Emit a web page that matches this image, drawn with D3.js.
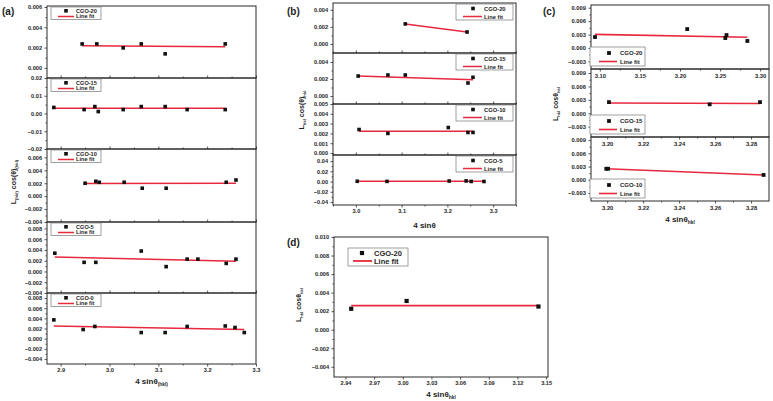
<!DOCTYPE html>
<html><head><meta charset="utf-8">
<script src="https://cdn.jsdelivr.net/npm/d3@7"></script>
<style>
body{margin:0;background:#fff;}
svg{display:block;font-family:"Liberation Sans",Arial,sans-serif;}
</style></head><body>
<svg id="c" width="773" height="401"></svg>
<script>
// ---------- DATA ----------
const fitLabel = "Line fit";
// Panel (a)
const a20X = [2.944, 2.974, 3.028, 3.065, 3.114, 3.237];
const a20Y = [0.00236, 0.00236, 0.00197, 0.00236, 0.00138, 0.00236];
const a20Fit = [0.00217, 0.00207];
const a15X = [2.886, 2.948, 2.970, 2.977, 3.028, 3.065, 3.114, 3.159, 3.237];
const a15Y = [0.0034, 0.0022, 0.0039, 0.0011, 0.0022, 0.0039, 0.0039, 0.0022, 0.0022];
const a15Fit = [0.0030, 0.0030];
const a10X = [2.950, 2.972, 2.979, 3.030, 3.067, 3.116, 3.239, 3.259];
const a10Y = [0.0020, 0.0023, 0.00215, 0.00215, 0.00123, 0.00123, 0.00215, 0.0025];
const a10Fit = [0.00195, 0.0020];
const a5X = [2.888, 2.948, 2.972, 3.065, 3.116, 3.159, 3.181, 3.239, 3.259];
const a5Y = [0.0034, 0.0017, 0.0017, 0.0038, 0.0009, 0.0023, 0.0023, 0.0015, 0.0023];
const a5Fit = [0.0027, 0.0019];
const a0X = [2.886, 2.946, 2.970, 3.065, 3.114, 3.159, 3.237, 3.257, 3.276];
const a0Y = [0.0037, 0.0018, 0.0024, 0.0012, 0.0012, 0.0024, 0.0025, 0.0022, 0.0012];
const a0Fit = [0.0025, 0.0018];
const aXTicks = [2.9, 3.0, 3.1, 3.2, 3.3];
const aXMinor = [2.95, 3.05, 3.15, 3.25];
// Panel (b)
const b20X = [3.108, 3.243];
const b20Y = [0.00235, 0.0014];
const b20Fit = [0.00235, 0.0014];
const b15X = [3.005, 3.070, 3.108, 3.245, 3.256];
const b15Y = [0.00235, 0.00247, 0.00247, 0.00153, 0.0022];
const b15Fit = [0.00235, 0.0019];
const b10X = [3.007, 3.070, 3.202, 3.245, 3.256];
const b10Y = [0.0024, 0.0020, 0.0026, 0.0021, 0.0021];
const b10Fit = [0.00222, 0.00222];
const b5X = [3.003, 3.068, 3.204, 3.241, 3.252, 3.280];
const b5Y = [0.0005, 0.0003, 0.0010, 0.0012, 0.0002, 0.0001];
const b5Fit = [0.0004, 0.0005];
const bXTicks = [3.0, 3.1, 3.2, 3.3];
const bXMinor = [2.95, 3.05, 3.15, 3.25, 3.35];
// Panel (c)
const c20X = [3.094, 3.209, 3.2565, 3.258, 3.284];
const c20Y = [0.00244, 0.00422, 0.00222, 0.00289, 0.00156];
const c20Fit = [0.00304, 0.00238];
const c15X = [3.201, 3.257, 3.285];
const c15Y = [0.0025, 0.0020, 0.0025];
const c15Fit = [0.0023, 0.0022];
const c10X = [3.1995, 3.2005, 3.287];
const c10Y = [0.0025, 0.0025, 0.0011];
const c10Fit = [0.0025, 0.0011];
const c20XTicks = [3.10, 3.15, 3.20, 3.25, 3.30];
const c20XMinor = [3.125, 3.175, 3.225, 3.275];
const cLowXTicks = [3.20, 3.22, 3.24, 3.26, 3.28];
const cLowXMinor = [3.21, 3.23, 3.25, 3.27];
const cYTicks = [-0.003, 0.000, 0.003, 0.006, 0.009];
// Panel (d)
const dX = [2.946, 3.004, 3.142];
const dY = [0.00226, 0.0031, 0.0025];
const dFit = [0.0026, 0.0026];
const dXTicks = [2.94, 2.97, 3.00, 3.03, 3.06, 3.09, 3.12, 3.15];
const dYTicks = [-0.004, -0.002, 0.000, 0.002, 0.004, 0.006, 0.008, 0.010];

// ---------- DRAWING ----------
const svg = d3.select("#c");
const RED = "#e8283c", AX = "#2b2b2b", TXT = "#1e1e1e";

function styleAxis(sel, fs) {
  sel.select(".domain").remove();
  sel.selectAll("line").attr("stroke", AX).attr("stroke-width", 0.8);
  sel.selectAll("text").attr("font-size", fs).attr("font-weight", "bold").attr("fill", TXT)
     .attr("font-family", "'Liberation Sans', Arial, sans-serif");
}

function subPanel(c) {
  const g = svg.append("g");
  const x = d3.scaleLinear().domain(c.xDomain).range([c.x0, c.x1]);
  const y = d3.scaleLinear().domain(c.yDomain).range([c.y1, c.y0]);
  const fs = c.fs || 5.6;
  const ya = g.append("g").attr("transform", `translate(${c.x0},0)`)
    .call(d3.axisLeft(y).tickValues(c.yTicks).tickFormat(d3.format(c.yFmt)).tickSizeInner(2.5).tickSizeOuter(0).tickPadding(c.yPad || 2.5));
  styleAxis(ya, fs);
  if (c.yMinor) {
    const ym = g.append("g").attr("transform", `translate(${c.x0},0)`)
      .call(d3.axisLeft(y).tickValues(c.yMinor).tickFormat("").tickSizeInner(1.5).tickSizeOuter(0));
    styleAxis(ym, fs);
  }
  const xa = g.append("g").attr("transform", `translate(0,${c.y1})`)
    .call(d3.axisBottom(x).tickValues(c.xTicks).tickFormat(c.xLabels ? d3.format(c.xFmt) : "")
      .tickSizeInner(c.xLabels ? 2.5 : -2.5).tickSizeOuter(0).tickPadding(2));
  styleAxis(xa, fs);
  if (c.xMinor) {
    const xm = g.append("g").attr("transform", `translate(0,${c.y1})`)
      .call(d3.axisBottom(x).tickValues(c.xMinor).tickFormat("").tickSizeInner(c.xLabels ? 1.5 : -1.5).tickSizeOuter(0));
    styleAxis(xm, fs);
  }
  g.append("rect").attr("x", c.x0).attr("y", c.y0).attr("width", c.x1 - c.x0).attr("height", c.y1 - c.y0)
    .attr("fill", "none").attr("stroke", AX).attr("stroke-width", 1);
  const ext = d3.extent(c.xs);
  const fitPts = [[ext[0], c.fit[0]], [ext[1], c.fit[1]]];
  g.append("path").datum(fitPts)
    .attr("d", d3.line().x(d => x(d[0])).y(d => y(d[1])))
    .attr("fill", "none").attr("stroke", RED).attr("stroke-width", c.lw || 1.6);
  const ms = c.ms || 4;
  g.selectAll("rect.pt").data(c.xs.map((v, i) => [v, c.ys[i]])).enter().append("rect")
    .attr("class", "pt")
    .attr("x", d => x(d[0]) - ms / 2).attr("y", d => y(d[1]) - ms / 2)
    .attr("width", ms).attr("height", ms).attr("fill", "#111");
  const L = c.legend;
  g.append("rect").attr("x", L.x).attr("y", L.y).attr("width", L.w).attr("height", L.h)
    .attr("fill", "#fff").attr("stroke", "#777").attr("stroke-width", 0.7);
  g.append("rect").attr("x", L.mx - ms / 2).attr("y", L.y + L.my - ms / 2).attr("width", ms).attr("height", ms).attr("fill", "#111");
  g.append("line").attr("x1", L.lx0).attr("x2", L.lx1).attr("y1", L.y + L.ly).attr("y2", L.y + L.ly)
    .attr("stroke", RED).attr("stroke-width", c.lw || 1.6);
  g.append("text").attr("x", L.tx).attr("y", L.y + L.t1).text(c.name)
    .attr("font-size", L.fs).attr("font-weight", "bold").attr("fill", TXT);
  g.append("text").attr("x", L.tx).attr("y", L.y + L.t2).text(fitLabel)
    .attr("font-size", L.fs).attr("font-weight", "bold").attr("fill", TXT);
}

function subText(x, y, parts, fs, rotate) {
  const t = svg.append("text").attr("text-anchor", "middle").attr("font-weight", "bold")
    .attr("font-size", fs).attr("fill", TXT)
    .attr("transform", rotate ? `translate(${x},${y}) rotate(-90)` : `translate(${x},${y})`);
  parts.forEach(p => {
    if (p.sub) {
      t.append("tspan").text(p.t).attr("font-size", fs * 0.6).attr("dy", fs * 0.3);
    } else {
      t.append("tspan").text(p.t).attr("dy", p.back ? -fs * 0.3 : 0);
    }
  });
}
function panelLabel(x, y, s) {
  svg.append("text").attr("x", x).attr("y", y).text(s).attr("font-size", 10).attr("font-weight", "bold").attr("fill", TXT);
}

// ----- Panel (a) -----
const aL = 47, aR = 256;
const aTops = [6, 78, 149, 222, 293, 364];
const aSeries = [
  {name: "CGO-20", xs: a20X, ys: a20Y, fit: a20Fit, yDomain: [-0.001, 0.0061], yTicks: [0, 0.002, 0.004, 0.006], yMinor: [0.001, 0.003, 0.005], yFmt: ".3f"},
  {name: "CGO-15", xs: a15X, ys: a15Y, fit: a15Fit, yDomain: [-0.02, 0.02], yTicks: [-0.02, -0.01, 0, 0.01, 0.02], yMinor: [-0.015, -0.005, 0.005, 0.015], yFmt: ".2f"},
  {name: "CGO-10", xs: a10X, ys: a10Y, fit: a10Fit, yDomain: [-0.004, 0.0073], yTicks: [-0.004, -0.002, 0, 0.002, 0.004, 0.006], yMinor: [-0.003, -0.001, 0.001, 0.003, 0.005], yFmt: ".3f"},
  {name: "CGO-5", xs: a5X, ys: a5Y, fit: a5Fit, yDomain: [-0.004, 0.0092], yTicks: [-0.004, -0.002, 0, 0.002, 0.004, 0.006, 0.008], yMinor: [-0.003, -0.001, 0.001, 0.003, 0.005, 0.007], yFmt: ".3f"},
  {name: "CGO-0", xs: a0X, ys: a0Y, fit: a0Fit, yDomain: [-0.005, 0.009], yTicks: [-0.004, -0.002, 0, 0.002, 0.004, 0.006, 0.008], yMinor: [-0.003, -0.001, 0.001, 0.003, 0.005, 0.007], yFmt: ".3f"}
];
aSeries.forEach((s, i) => {
  subPanel(Object.assign({}, s, {
    x0: aL, x1: aR, y0: aTops[i], y1: aTops[i + 1],
    xDomain: [2.872, 3.3], xTicks: aXTicks, xMinor: aXMinor, xFmt: ".1f", xLabels: i === 4,
    ms: 3.6, lw: 1.5,
    legend: {x: 51, y: aTops[i] + 1, w: 50, h: 12.5, mx: 66, my: 3.8, lx0: 58, lx1: 74, ly: 9.5, tx: 76, t1: 5.6, t2: 11.4, fs: 5.6}
  }));
});
subText((aL + aR) / 2, 384, [{t: "4 sinθ"}, {t: "(hkl)", sub: true}], 8, false);
subText(16, 182, [{t: "L"}, {t: "(hkl)", sub: true}, {t: " cos(θ)", back: true}, {t: "(hkl)", sub: true}], 7, true);
panelLabel(2, 15, "(a)");

// ----- Panel (b) -----
const bL = 333, bR = 516;
const bTops = [3, 53, 104, 155, 205];
const bSeries = [
  {name: "CGO-20", xs: b20X, ys: b20Y, fit: b20Fit, yDomain: [-0.00106, 0.0048], yTicks: [0, 0.002, 0.004], yMinor: [0.001, 0.003], yFmt: ".3f"},
  {name: "CGO-15", xs: b15X, ys: b15Y, fit: b15Fit, yDomain: [-0.00094, 0.00506], yTicks: [0, 0.002, 0.004], yMinor: [0.001, 0.003], yFmt: ".3f"},
  {name: "CGO-10", xs: b10X, ys: b10Y, fit: b10Fit, yDomain: [-0.0002, 0.005], yTicks: [0, 0.001, 0.002, 0.003, 0.004, 0.005], yMinor: null, yFmt: ".3f"},
  {name: "CGO-5", xs: b5X, ys: b5Y, fit: b5Fit, yDomain: [-0.046, 0.052], yTicks: [-0.04, -0.02, 0, 0.02, 0.04], yMinor: [-0.03, -0.01, 0.01, 0.03], yFmt: ".2f"}
];
bSeries.forEach((s, i) => {
  subPanel(Object.assign({}, s, {
    x0: bL, x1: bR, y0: bTops[i], y1: bTops[i + 1],
    xDomain: [2.95, 3.35], xTicks: bXTicks, xMinor: bXMinor, xFmt: ".1f", xLabels: i === 3,
    ms: 3.6, lw: 1.5,
    legend: {x: 456, y: bTops[i] + 1, w: 57, h: 16, mx: 473, my: 4.5, lx0: 463, lx1: 482, ly: 12.5, tx: 484, t1: 6.5, t2: 14.5, fs: 5.8}
  }));
});
subText((bL + bR) / 2, 228, [{t: "4 sinθ"}], 8, false);
subText(304, 110, [{t: "L"}, {t: "hkl", sub: true}, {t: " cos(θ)", back: true}, {t: "hkl", sub: true}], 7, true);
panelLabel(287, 15, "(b)");

// ----- Panel (c) -----
const cL = 591, cR = 769;
const cTops = [5, 69, 137, 201];
const cSeries = [
  {name: "CGO-20", xs: c20X, ys: c20Y, fit: c20Fit, yDomain: [-0.0047, 0.0096], xDomain: [3.089, 3.311], xTicks: c20XTicks, xMinor: c20XMinor},
  {name: "CGO-15", xs: c15X, ys: c15Y, fit: c15Fit, yDomain: [-0.0053, 0.0099], xDomain: [3.191, 3.29], xTicks: cLowXTicks, xMinor: cLowXMinor},
  {name: "CGO-10", xs: c10X, ys: c10Y, fit: c10Fit, yDomain: [-0.0048, 0.0097], xDomain: [3.191, 3.29], xTicks: cLowXTicks, xMinor: cLowXMinor}
];
cSeries.forEach((s, i) => {
  const B = cTops[i + 1];
  subPanel(Object.assign({}, s, {
    x0: cL, x1: cR, y0: cTops[i], y1: B,
    yTicks: cYTicks, yMinor: [-0.0015, 0.0015, 0.0045, 0.0075], yFmt: ".3f",
    xFmt: ".2f", xLabels: true, fs: 5.8,
    ms: 3.8, lw: 1.6,
    legend: {x: 590, y: B - 22, w: 55, h: 19, mx: 609, my: 6, lx0: 599, lx1: 617, ly: 14.5, tx: 620, t1: 8, t2: 16.5, fs: 6}
  }));
});
subText((cL + cR) / 2, 222, [{t: "4 sinθ"}, {t: "hkl", sub: true}], 8, false);
subText(558, 104, [{t: "L"}, {t: "hkl", sub: true}, {t: " cosθ", back: true}, {t: "hkl", sub: true}], 7, true);
panelLabel(543, 15, "(c)");

// ----- Panel (d) -----
subPanel({
  name: "CGO-20", xs: dX, ys: dY, fit: dFit,
  x0: 334, x1: 548, y0: 237, y1: 377,
  xDomain: [2.928, 3.152], xTicks: dXTicks, xMinor: null, xFmt: ".2f", xLabels: true,
  yDomain: [-0.0051, 0.010], yTicks: dYTicks, yMinor: [-0.003, -0.001, 0.001, 0.003, 0.005, 0.007, 0.009], yFmt: ".3f",
  fs: 5.6, ms: 4.2, lw: 1.8,
  legend: {x: 348, y: 248, w: 60, h: 18, mx: 362, my: 5, lx0: 353, lx1: 372, ly: 13, tx: 374, t1: 7.5, t2: 15.5, fs: 7.5}
});
subText(441, 397, [{t: "4 sinθ"}, {t: "hkl", sub: true}], 8, false);
subText(301, 305, [{t: "L"}, {t: "hkl", sub: true}, {t: " cosθ", back: true}, {t: "hkl", sub: true}], 7, true);
panelLabel(287, 246, "(d)");
</script>
</body></html>
